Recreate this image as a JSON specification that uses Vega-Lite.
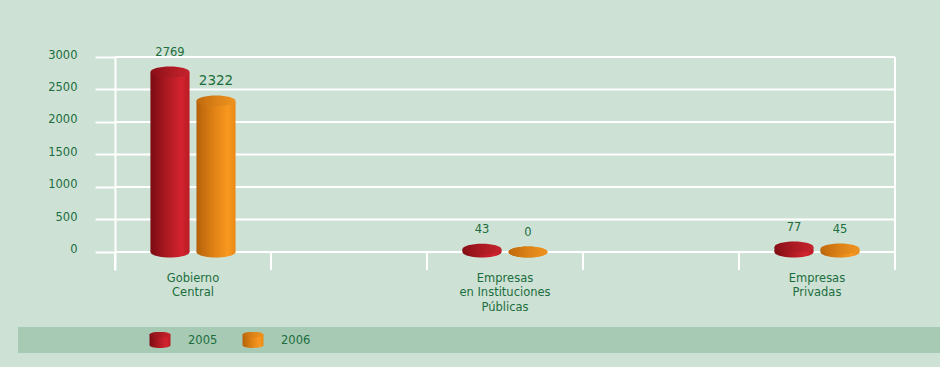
{
  "$schema": "https://vega.github.io/schema/vega-lite/v6.json",
  "background": "#cee1d5",
  "padding": {"left": 18, "top": 47, "right": 0, "bottom": 14},
  "bounds": "flush",
  "spacing": 57,
  "config": {
    "view": {"stroke": null},
    "font": "DejaVu Sans",
    "axisX": {"domain": false, "ticks": false, "grid": false, "title": null, "labelColor": "#1b6e3d", "labelFont": "DejaVu Sans", "labelFontSize": 11.5, "labelPadding": 2, "labelLineHeight": 14.5, "labelAngle": 0},
    "axisY": {"grid": false, "title": null, "offset": -97, "domainColor": "#ffffff", "domainWidth": 2, "tickColor": "#ffffff", "tickWidth": 2, "tickSize": 20, "labelPadding": 18, "labelColor": "#1b6e3d", "labelFont": "DejaVu Sans", "labelFontSize": 11.5, "labelOffset": -2, "labelOverlap": false, "format": "d", "tickCount": 7}
  },
  "datasets": {
    "main": [
      {"cat": "Gobierno Central", "year": "2005", "value": 2769},
      {"cat": "Gobierno Central", "year": "2006", "value": 2322},
      {"cat": "Empresas en Instituciones Públicas", "year": "2005", "value": 43},
      {"cat": "Empresas en Instituciones Públicas", "year": "2006", "value": 0},
      {"cat": "Empresas Privadas", "year": "2005", "value": 77},
      {"cat": "Empresas Privadas", "year": "2006", "value": 45}
    ],
    "grid": [{"v": 0}, {"v": 500}, {"v": 1000}, {"v": 1500}, {"v": 2000}, {"v": 2500}, {"v": 3000}],
    "legend": [{"year": 2005}, {"year": 2006}]
  },
  "vconcat": [
    {
      "width": 922,
      "height": 213,
      "data": {"name": "main"},
      "layer": [
        {
          "data": {"name": "grid"},
          "mark": {"type": "rule", "color": "#ffffff", "strokeWidth": 2},
          "encoding": {
            "x": {"datum": "Gobierno Central", "type": "nominal", "bandPosition": 0, "scale": {"domain": ["Gobierno Central", "Empresas en Instituciones Públicas", "Empresas Privadas"], "paddingInner": 0.5, "paddingOuter": 0.2276, "align": 0.683}},
            "x2": {"datum": "Empresas Privadas", "bandPosition": 1},
            "y": {"field": "v", "type": "quantitative", "scale": {"domain": [-277, 3000], "nice": false, "zero": false}, "axis": {"values": [0, 500, 1000, 1500, 2000, 2500, 3000], "tickCount": 7, "labelOverlap": false, "format": "d"}}
          }
        },
        {
          "transform": [{"filter": "datum.year == '2005'"}],
          "mark": {"type": "rule", "color": "#ffffff", "strokeWidth": 2},
          "encoding": {
            "x": {"field": "cat", "type": "nominal", "bandPosition": 0},
            "y": {"datum": -277, "type": "quantitative"},
            "y2": {"datum": 0}
          }
        },
        {
          "transform": [{"filter": "datum.year == '2005'"}],
          "mark": {"type": "rule", "color": "#ffffff", "strokeWidth": 2},
          "encoding": {
            "x": {"field": "cat", "type": "nominal", "bandPosition": 1},
            "y": {"datum": -277, "type": "quantitative"},
            "y2": {"datum": 0}
          }
        },
        {
          "transform": [{"filter": "datum.year == '2005' && datum.cat == 'Empresas Privadas'"}],
          "mark": {"type": "rule", "color": "#ffffff", "strokeWidth": 2},
          "encoding": {
            "x": {"field": "cat", "type": "nominal", "bandPosition": 1},
            "y": {"datum": -277, "type": "quantitative"},
            "y2": {"datum": 3000}
          }
        },
        {
          "mark": {"type": "point", "filled": true, "opacity": 1, "size": 1521, "shape": "M-1,0A1,0.28 0 1,0 1,0A1,0.28 0 1,0 -1,0Z"},
          "encoding": {
            "x": {"field": "cat", "type": "nominal"},
            "xOffset": {"field": "year", "type": "nominal", "scale": {"paddingInner": 0.15, "paddingOuter": 0.77}},
            "y": {"datum": 0, "type": "quantitative"},
            "fill": {
              "condition": {"test": "datum.year == '2005'", "value": {"gradient": "linear", "x1": 0, "x2": 1, "y1": 0, "y2": 0, "stops": [{"offset": 0, "color": "#7a0c12"}, {"offset": 0.45, "color": "#b01a23"}, {"offset": 0.8, "color": "#d2232f"}, {"offset": 1, "color": "#b81c25"}]}},
              "value": {"gradient": "linear", "x1": 0, "x2": 1, "y1": 0, "y2": 0, "stops": [{"offset": 0, "color": "#b5610a"}, {"offset": 0.45, "color": "#e08316"}, {"offset": 0.8, "color": "#f9981f"}, {"offset": 1, "color": "#e88a18"}]}
            }
          }
        },
        {
          "mark": {"type": "bar"},
          "encoding": {
            "x": {"field": "cat", "type": "nominal", "axis": {"labelExpr": "datum.value == 'Gobierno Central' ? ['Gobierno', 'Central'] : datum.value == 'Empresas Privadas' ? ['Empresas', 'Privadas'] : ['Empresas', 'en Instituciones', 'Públicas']"}},
            "xOffset": {"field": "year", "type": "nominal"},
            "y": {"field": "value", "type": "quantitative", "axis": {"values": [0, 500, 1000, 1500, 2000, 2500, 3000], "tickCount": 7, "labelOverlap": false, "format": "d"}},
            "y2": {"datum": 0},
            "fill": {
              "condition": {"test": "datum.year == '2005'", "value": {"gradient": "linear", "x1": 0, "x2": 1, "y1": 0, "y2": 0, "stops": [{"offset": 0, "color": "#7a0c12"}, {"offset": 0.45, "color": "#b01a23"}, {"offset": 0.8, "color": "#d2232f"}, {"offset": 1, "color": "#b81c25"}]}},
              "value": {"gradient": "linear", "x1": 0, "x2": 1, "y1": 0, "y2": 0, "stops": [{"offset": 0, "color": "#b5610a"}, {"offset": 0.45, "color": "#e08316"}, {"offset": 0.8, "color": "#f9981f"}, {"offset": 1, "color": "#e88a18"}]}
            }
          }
        },
        {
          "mark": {"type": "point", "filled": true, "opacity": 1, "size": 1521, "shape": "M-1,0A1,0.28 0 1,0 1,0A1,0.28 0 1,0 -1,0Z"},
          "encoding": {
            "x": {"field": "cat", "type": "nominal"},
            "xOffset": {"field": "year", "type": "nominal"},
            "y": {"field": "value", "type": "quantitative"},
            "fill": {
              "condition": {"test": "datum.year == '2005'", "value": {"gradient": "linear", "x1": 0, "x2": 1, "y1": 0, "y2": 0, "stops": [{"offset": 0, "color": "#8a0f17"}, {"offset": 0.6, "color": "#b11c25"}, {"offset": 1, "color": "#c4242d"}]}},
              "value": {"gradient": "linear", "x1": 0, "x2": 1, "y1": 0, "y2": 0, "stops": [{"offset": 0, "color": "#c06a0c"}, {"offset": 0.6, "color": "#e0861a"}, {"offset": 1, "color": "#ee931e"}]}
            }
          }
        },
        {
          "mark": {"type": "text", "baseline": "alphabetic", "dy": -16, "color": "#1b6e3d", "font": "DejaVu Sans"},
          "encoding": {
            "x": {"field": "cat", "type": "nominal"},
            "xOffset": {"field": "year", "type": "nominal"},
            "y": {"field": "value", "type": "quantitative"},
            "text": {"field": "value", "type": "quantitative"},
            "size": {"condition": {"test": "datum.value == 2322", "value": 13.5}, "value": 11.5}
          }
        }
      ]
    },
    {
      "width": 922,
      "height": 26,
      "data": {"name": "legend"},
      "view": {"fill": "#a7cab5", "stroke": null},
      "encoding": {
        "x": {"field": "year", "type": "quantitative", "axis": null, "scale": {"domain": [2003.473, 2013.387], "nice": false, "zero": false}}
      },
      "layer": [
        {
          "mark": {"type": "point", "filled": true, "opacity": 1, "size": 441, "shape": "M-1,-0.5L-1,0.5A1,0.26 0 0,0 1,0.5L1,-0.5A1,0.26 0 0,0 -1,-0.5Z"},
          "encoding": {
            "fill": {
              "condition": {"test": "datum.year == 2005", "value": {"gradient": "linear", "x1": 0, "x2": 1, "y1": 0, "y2": 0, "stops": [{"offset": 0, "color": "#7a0c12"}, {"offset": 0.45, "color": "#b01a23"}, {"offset": 0.8, "color": "#d2232f"}, {"offset": 1, "color": "#b81c25"}]}},
              "value": {"gradient": "linear", "x1": 0, "x2": 1, "y1": 0, "y2": 0, "stops": [{"offset": 0, "color": "#b5610a"}, {"offset": 0.45, "color": "#e08316"}, {"offset": 0.8, "color": "#f9981f"}, {"offset": 1, "color": "#e88a18"}]}
            }
          }
        },
        {
          "mark": {"type": "point", "filled": true, "opacity": 1, "size": 441, "shape": "M-1,-0.5A1,0.26 0 1,0 1,-0.5A1,0.26 0 1,0 -1,-0.5Z"},
          "encoding": {
            "fill": {
              "condition": {"test": "datum.year == 2005", "value": {"gradient": "linear", "x1": 0, "x2": 1, "y1": 0, "y2": 0, "stops": [{"offset": 0, "color": "#8a0f17"}, {"offset": 0.6, "color": "#b11c25"}, {"offset": 1, "color": "#c4242d"}]}},
              "value": {"gradient": "linear", "x1": 0, "x2": 1, "y1": 0, "y2": 0, "stops": [{"offset": 0, "color": "#c06a0c"}, {"offset": 0.6, "color": "#e0861a"}, {"offset": 1, "color": "#ee931e"}]}
            }
          }
        },
        {
          "mark": {"type": "text", "align": "left", "baseline": "middle", "dx": 28, "dy": 1, "fontSize": 11.5, "color": "#1b6e3d", "font": "DejaVu Sans"},
          "encoding": {"text": {"field": "year", "type": "quantitative", "format": "d"}}
        }
      ]
    }
  ]
}
